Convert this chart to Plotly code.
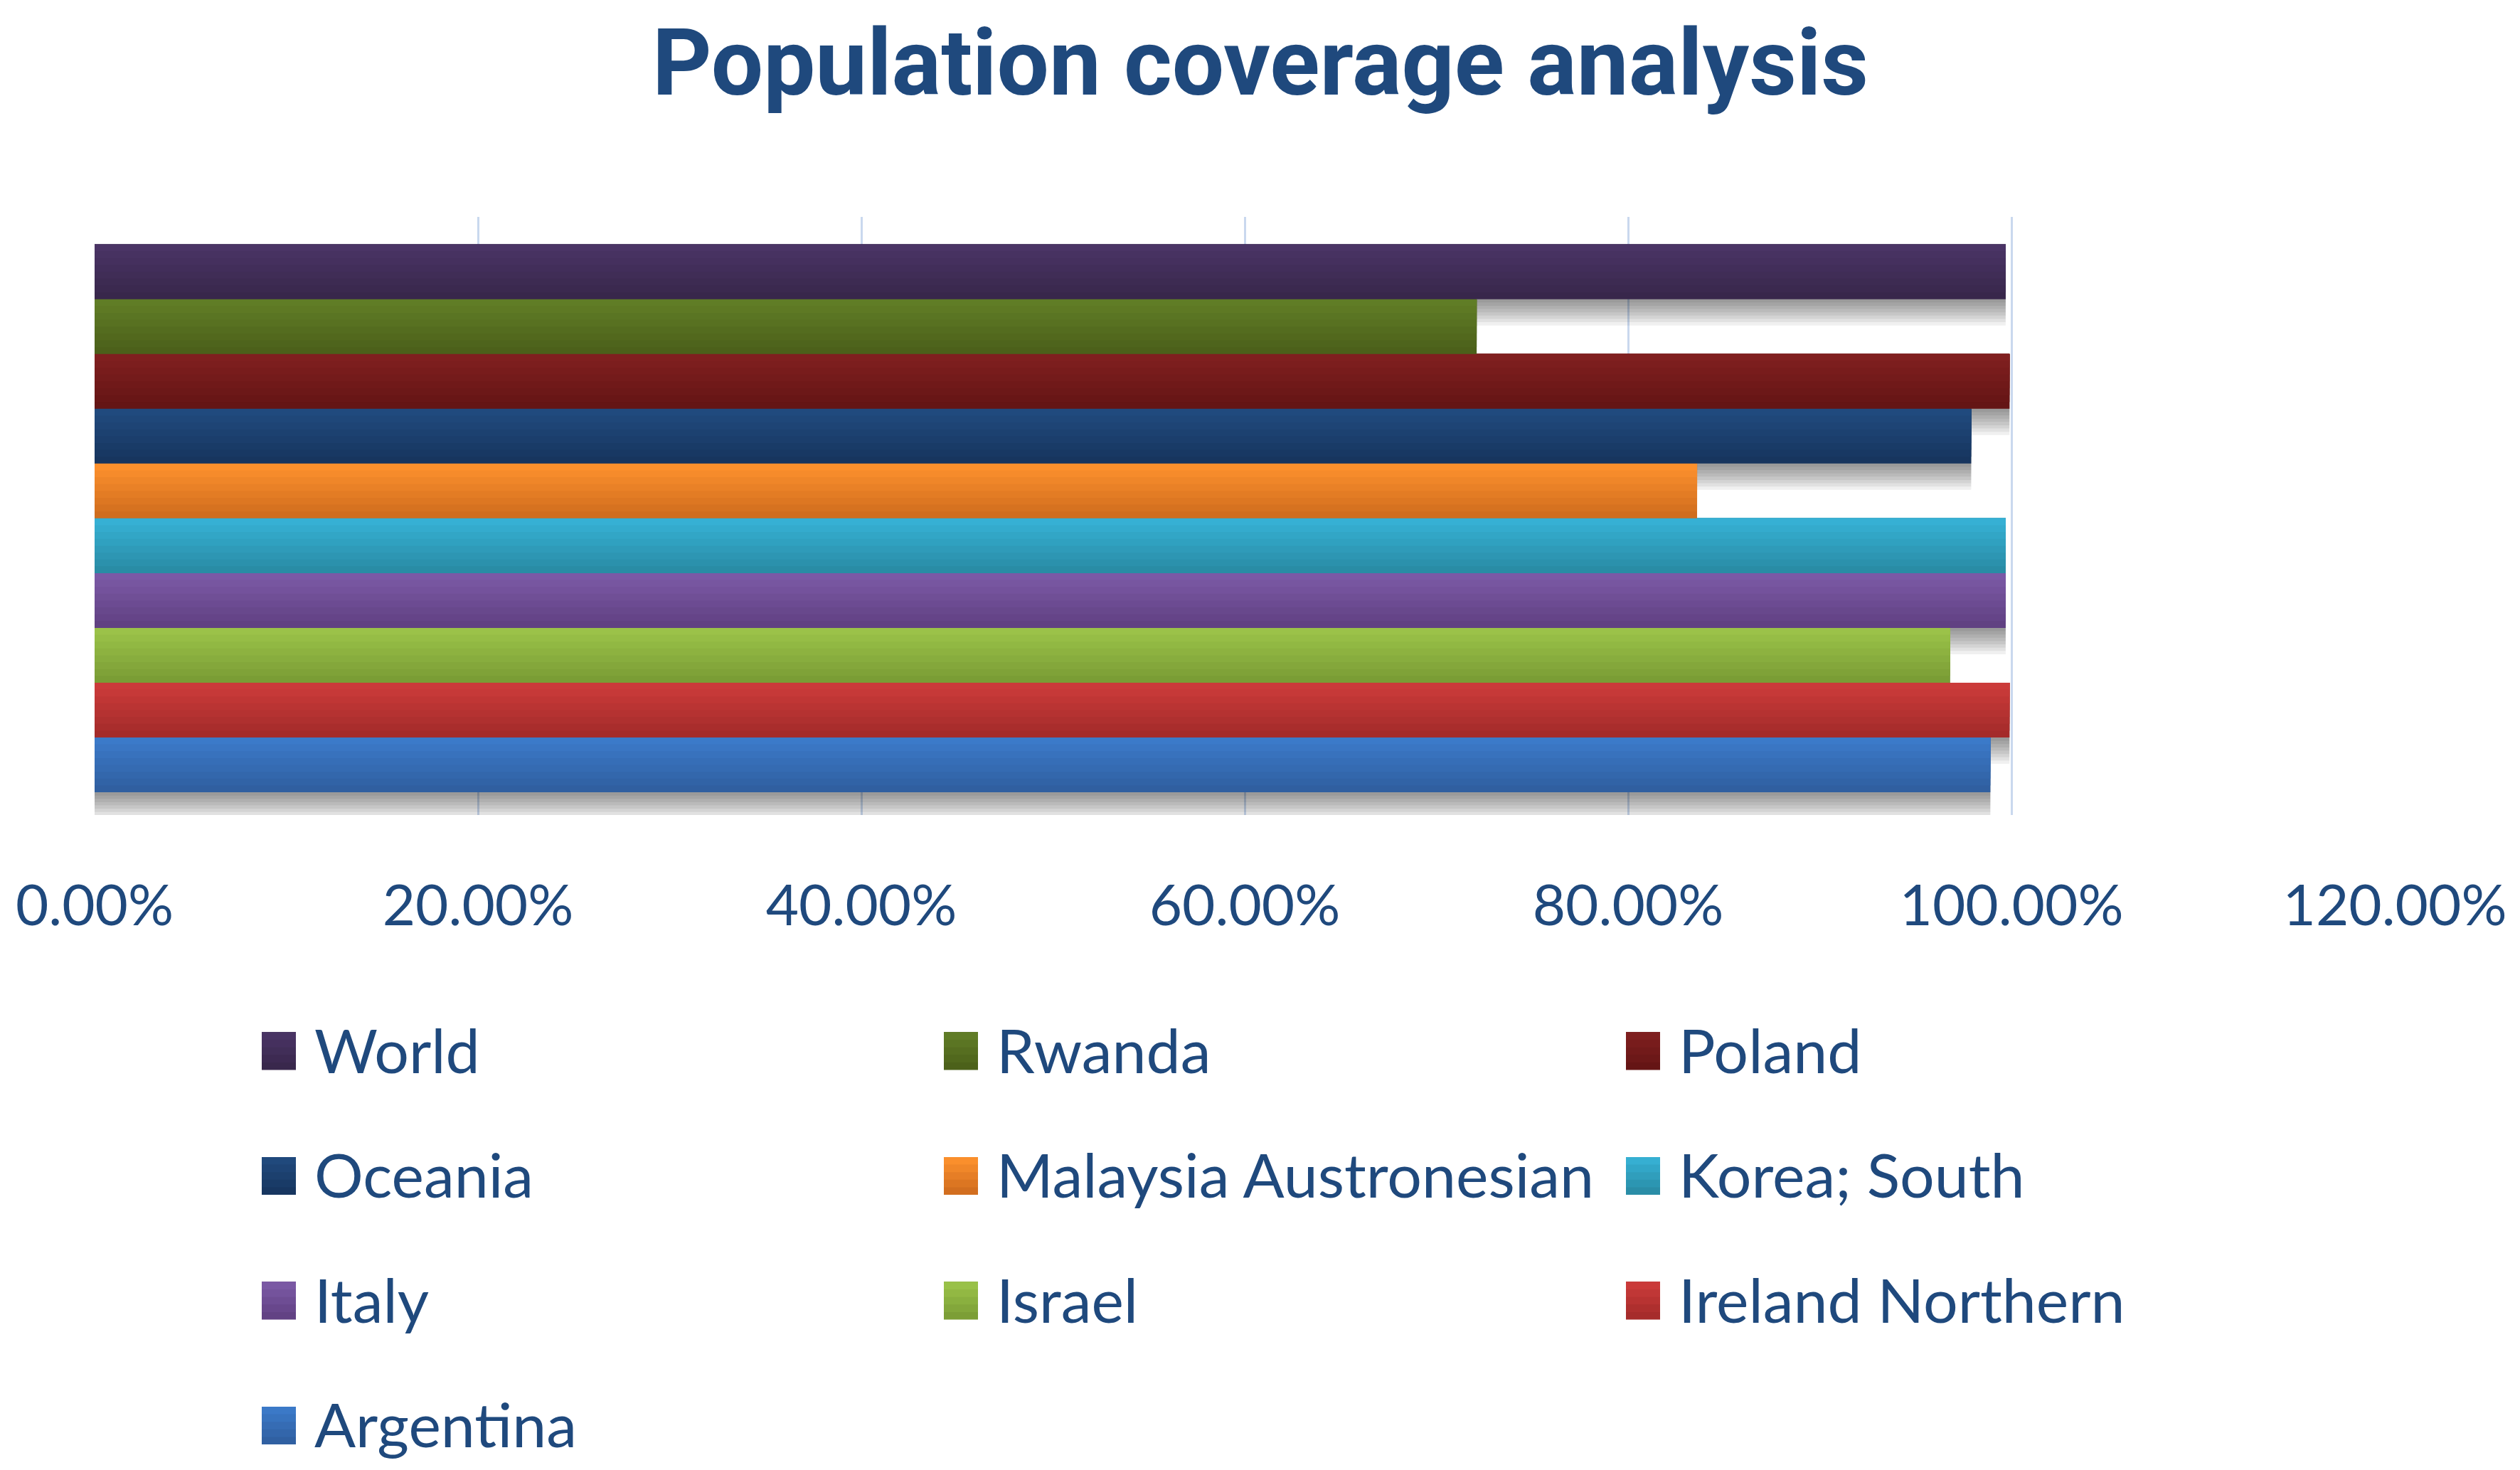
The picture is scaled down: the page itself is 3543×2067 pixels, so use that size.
import plotly.graph_objects as go

# ---- data (legend order, top bar first) ----
series = ["World", "Rwanda", "Poland", "Oceania", "Malaysia Austronesian",
          "Korea; South", "Italy", "Israel", "Ireland Northern", "Argentina"]
coverage = [0.997, 0.721, 0.999, 0.979, 0.836, 0.997, 0.997, 0.968, 0.999, 0.989]
x_ticks = [0, 0.2, 0.4, 0.6, 0.8, 1.0, 1.2]
title_text = "Population coverage analysis"

# bar gradient colours (top, bottom), same order as series
color_top = ["#4B3567", "#627F27", "#822020", "#214B80", "#FF932E",
             "#37B3D7", "#7D5BA8", "#9DC54A", "#CE3C3B", "#3C7CCC"]
color_bot = ["#372649", "#4A5E19", "#621414", "#16345C", "#CD6A1D",
             "#2889A2", "#5F3F80", "#789A34", "#A12A29", "#2F5D9D"]

# ---- layout constants (page body has an 8px default margin) ----
OFF = 8
W, H = 3543 - OFF, 2067 - OFF
ML, MR, MT, MB = 133 - OFF, 176, 305 - OFF, 921
PW, PH = W - ML - MR, H - MT - MB
TXT = "#1F497D"
FONT = "Lato"

n = len(series)
group = 0.916
bw = group / n
N_STRIPS = 8


def mix(c1, c2, t):
    a = [int(c1[i:i + 2], 16) for i in (1, 3, 5)]
    b = [int(c2[i:i + 2], 16) for i in (1, 3, 5)]
    return "#" + "".join(f"{round(a[j] + (b[j] - a[j]) * t):02X}" for j in range(3))


fig = go.Figure()

# soft drop shadow layers (drawn first, beneath the bars)
n_layers = 8
step = 0.0055
for j in range(1, n_layers + 1):
    d = j * step
    for k in range(n):
        i = n - 1 - k  # k = position from bottom
        fig.add_trace(go.Bar(
            x=[coverage[i]], y=[0], orientation="h",
            offset=-group / 2 + k * bw - d, width=bw,
            marker=dict(color="rgba(0,0,0,0.06)", line=dict(width=0)),
            showlegend=False, hoverinfo="skip"))

# real bars, each drawn as overlapping gradient strips (no seams):
# strip s spans from its own lower edge up to the bar top; later strips cover the upper part
sw = bw / N_STRIPS
for k in range(n):
    i = n - 1 - k
    base = -group / 2 + k * bw
    for s in range(N_STRIPS):
        t = (N_STRIPS - 1 - s + 0.5) / N_STRIPS  # s=0 is the bottom strip
        fig.add_trace(go.Bar(
            x=[coverage[i]], y=[0], orientation="h", name=series[i],
            offset=base + s * sw, width=bw - s * sw,
            marker=dict(color=mix(color_top[i], color_bot[i], t), line=dict(width=0)),
            showlegend=False, hovertemplate=series[i] + ": %{x:.2%}<extra></extra>"))


# manual legend (3 columns)
def px_to_paper_x(px):
    return (px - OFF - ML) / PW


def px_to_paper_y(py):
    return (H - MB - (py - OFF)) / PH


col0, col_step = 368, 959
row0, row_step = 1478, 175.5
sw_w, sw_h = 48, 53
LEG_STRIPS = 5
shapes, annotations = [], []
for idx, name in enumerate(series):
    r, c = divmod(idx, 3)
    left = col0 + c * col_step
    cy = row0 + r * row_step
    top = cy - sw_h / 2
    bottom = cy + sw_h / 2
    hs = sw_h / LEG_STRIPS
    # bottom-most strip first, each reaching up to the swatch top
    for s in range(LEG_STRIPS - 1, -1, -1):
        t = (s + 0.5) / LEG_STRIPS
        shapes.append(dict(type="rect", xref="paper", yref="paper",
                           x0=px_to_paper_x(left), x1=px_to_paper_x(left + sw_w),
                           y0=px_to_paper_y(top + (s + 1) * hs), y1=px_to_paper_y(top),
                           fillcolor=mix(color_top[idx], color_bot[idx], t),
                           line=dict(width=0)))
    annotations.append(dict(xref="paper", yref="paper",
                            x=px_to_paper_x(left + 72), y=px_to_paper_y(cy - 3),
                            xanchor="left", yanchor="middle", showarrow=False,
                            text=name, font=dict(family=FONT, size=86, color=TXT)))

title_size = 130
title_baseline = 133 - OFF
fig.update_layout(
    width=W, height=H,
    margin=dict(l=ML, r=MR, t=MT, b=MB),
    paper_bgcolor="white", plot_bgcolor="white",
    barmode="overlay",
    title=dict(text=title_text, x=(1772 - OFF) / W, xanchor="center", xref="container",
               y=1 - (title_baseline - 0.35 * title_size) / H, yanchor="middle",
               yref="container",
               font=dict(family="Roboto", size=title_size, color=TXT, weight="bold")),
    xaxis=dict(range=[0, 1.2], tickvals=x_ticks, tickformat=".2%",
               showgrid=True, gridcolor="#C9D8EE", gridwidth=3,
               zeroline=False, showline=False, ticks="",
               ticklabelstandoff=74,
               tickfont=dict(family=FONT, size=80, color=TXT)),
    yaxis=dict(range=[-0.496, 0.504], showticklabels=False, showgrid=False,
               zeroline=False, showline=False, ticks=""),
    shapes=shapes, annotations=annotations,
    showlegend=False,
)

fig.write_html("out.html")
